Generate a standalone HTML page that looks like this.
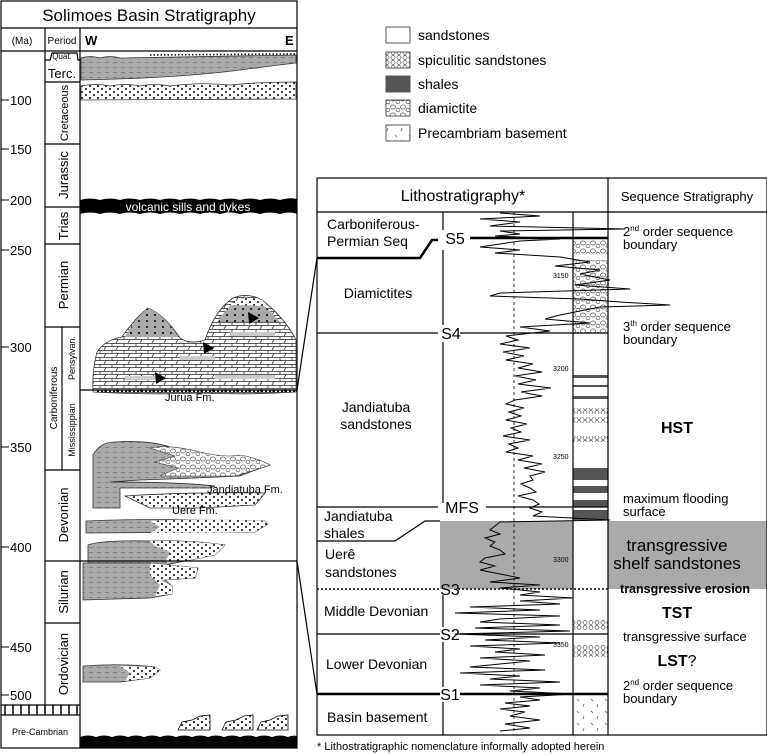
<!DOCTYPE html>
<html><head><meta charset="utf-8"><style>
html,body{margin:0;padding:0;background:#fff;}
svg{display:block;font-family:"Liberation Sans",sans-serif;}
</style></head><body>
<svg width="767" height="755" viewBox="0 0 767 755" xmlns="http://www.w3.org/2000/svg">
<defs>
<pattern id="dots" width="8" height="6" patternUnits="userSpaceOnUse"><rect width="8" height="6" fill="#fff"/><circle cx="2" cy="2" r="1" fill="#000"/><circle cx="6" cy="5" r="1" fill="#000"/></pattern>
<pattern id="gsh" width="8" height="5" patternUnits="userSpaceOnUse"><rect width="8" height="5" fill="#aaa"/><line x1="1" y1="2.5" x2="5" y2="2.5" stroke="#777" stroke-width="0.8"/></pattern>
<pattern id="gdot" width="8" height="6" patternUnits="userSpaceOnUse"><rect width="8" height="6" fill="#aaa"/><circle cx="3" cy="3" r="1" fill="#000"/></pattern>
<pattern id="diam" width="10" height="8" patternUnits="userSpaceOnUse"><rect width="10" height="8" fill="#fff"/><ellipse cx="3" cy="3" rx="2.5" ry="2" fill="none" stroke="#555" stroke-width="0.7"/><ellipse cx="8" cy="6" rx="2" ry="1.6" fill="none" stroke="#555" stroke-width="0.7"/></pattern>
<pattern id="spic" width="6" height="5" patternUnits="userSpaceOnUse"><rect width="6" height="5" fill="#fff"/><circle cx="3" cy="2.5" r="2" fill="none" stroke="#555" stroke-width="0.7"/></pattern>
<pattern id="brick" width="12" height="7" patternUnits="userSpaceOnUse"><rect width="12" height="7" fill="#fff"/><line x1="0" y1="0.5" x2="12" y2="0.5" stroke="#333" stroke-width="0.8"/><line x1="4" y1="0" x2="4" y2="3.5" stroke="#333" stroke-width="0.8"/><line x1="0" y1="3.5" x2="12" y2="3.5" stroke="#333" stroke-width="0.8"/><line x1="10" y1="3.5" x2="8" y2="7" stroke="#333" stroke-width="0.8"/></pattern>
<pattern id="base" width="14" height="12" patternUnits="userSpaceOnUse"><rect width="14" height="12" fill="#fff"/><line x1="3" y1="3" x2="5" y2="5" stroke="#555" stroke-width="0.7"/><line x1="10" y1="8" x2="9" y2="11" stroke="#555" stroke-width="0.7"/></pattern>
</defs>

<!-- LEFT PANEL -->
<g stroke="#000" fill="none" stroke-width="1.2">
<rect x="1" y="1" width="296" height="747"/>
<line x1="1" y1="28" x2="297" y2="28"/>
<line x1="1" y1="51" x2="297" y2="51"/>
<line x1="45" y1="28" x2="45" y2="705"/>
<line x1="80" y1="28" x2="80" y2="748"/>
<path d="M45 60 H50 L52 53 H77 L78 60 H80"/>
<line x1="45" y1="82" x2="80" y2="82"/>
<line x1="45" y1="144" x2="80" y2="144"/>
<line x1="45" y1="207" x2="80" y2="207"/>
<line x1="45" y1="244" x2="80" y2="244"/>
<line x1="45" y1="327" x2="80" y2="327"/>
<line x1="62" y1="327" x2="62" y2="470"/>
<line x1="45" y1="470" x2="80" y2="470"/>
<line x1="45" y1="623" x2="80" y2="623"/>
<line x1="1" y1="705" x2="80" y2="705"/>
<line x1="1" y1="715" x2="80" y2="715"/>
</g>
<g stroke="#000" stroke-width="1.5">
<line x1="5" y1="705" x2="5" y2="715"/><line x1="13" y1="705" x2="13" y2="715"/><line x1="21" y1="705" x2="21" y2="715"/><line x1="29" y1="705" x2="29" y2="715"/><line x1="37" y1="705" x2="37" y2="715"/><line x1="45" y1="705" x2="45" y2="715"/><line x1="53" y1="705" x2="53" y2="715"/><line x1="61" y1="705" x2="61" y2="715"/><line x1="69" y1="705" x2="69" y2="715"/><line x1="77" y1="705" x2="77" y2="715"/>
</g>
<text x="149" y="21" font-size="17" text-anchor="middle">Solimoes Basin Stratigraphy</text>
<text x="22" y="44" font-size="10" text-anchor="middle">(Ma)</text>
<text x="62" y="44" font-size="10" text-anchor="middle">Period</text>
<text x="85" y="45" font-size="13" font-weight="bold">W</text>
<text x="285" y="45" font-size="13" font-weight="bold">E</text>
<text x="62" y="59" font-size="8" text-anchor="middle">Quat.</text>
<text x="62" y="78" font-size="13" text-anchor="middle">Terc.</text>
<g font-size="13">
<text transform="translate(68,113) rotate(-90)" text-anchor="middle" font-size="11">Cretaceous</text>
<text transform="translate(68,175) rotate(-90)" text-anchor="middle">Jurassic</text>
<text transform="translate(68,226) rotate(-90)" text-anchor="middle">Trias</text>
<text transform="translate(68,285) rotate(-90)" text-anchor="middle">Permian</text>
<text transform="translate(57,398) rotate(-90)" text-anchor="middle" font-size="10">Carboniferous</text>
<text transform="translate(75,358) rotate(-90)" text-anchor="middle" font-size="9">Pensylvan.</text>
<text transform="translate(75,430) rotate(-90)" text-anchor="middle" font-size="9">Mississippian</text>
<text transform="translate(68,515) rotate(-90)" text-anchor="middle">Devonian</text>
<text transform="translate(68,592) rotate(-90)" text-anchor="middle">Silurian</text>
<text transform="translate(68,664) rotate(-90)" text-anchor="middle">Ordovician</text>
</g>
<text x="40" y="735" font-size="9" text-anchor="middle">Pre-Cambrian</text>
<g font-size="13" stroke="#000" stroke-width="1">
<line x1="1" y1="100" x2="9" y2="100"/><text x="10" y="105" stroke="none">100</text>
<line x1="1" y1="149" x2="9" y2="149"/><text x="10" y="154" stroke="none">150</text>
<line x1="1" y1="200" x2="9" y2="200"/><text x="10" y="205" stroke="none">200</text>
<line x1="1" y1="250" x2="9" y2="250"/><text x="10" y="255" stroke="none">250</text>
<line x1="1" y1="347" x2="9" y2="347"/><text x="10" y="352" stroke="none">300</text>
<line x1="1" y1="447" x2="9" y2="447"/><text x="10" y="452" stroke="none">350</text>
<line x1="1" y1="547" x2="9" y2="547"/><text x="10" y="552" stroke="none">400</text>
<line x1="1" y1="647" x2="9" y2="647"/><text x="10" y="652" stroke="none">450</text>
<line x1="1" y1="695" x2="9" y2="695"/><text x="10" y="700" stroke="none">500</text>
</g>

<!-- left section contents -->
<path d="M81 58 Q90 55 100 58 Q110 55 120 58 L296 55 L296 63 Q270 66 240 70 Q180 78 81 80 Z" fill="url(#gsh)" stroke="#333" stroke-width="0.8"/>
<line x1="150" y1="55" x2="296" y2="54" stroke="#000" stroke-width="1.5" stroke-dasharray="1.5 2"/>
<path d="M81 86 Q95 83 110 86 Q125 83 140 86 Q155 83 170 86 Q200 82 230 85 Q260 82 296 82 L296 99 L81 100 Z" fill="url(#dots)" stroke="#333" stroke-width="0.8"/>
<path d="M80 200 Q90 197 100 200 Q110 197 120 200 Q130 197 140 200 Q150 197 160 200 Q170 197 180 200 Q190 197 200 200 Q210 197 220 200 Q230 197 240 200 Q250 197 260 200 Q270 197 280 200 Q290 197 297 199 L297 214 Q290 211 280 214 Q270 211 260 214 Q250 211 240 214 Q230 211 220 214 Q210 211 200 214 Q190 211 180 214 Q170 211 160 214 Q150 211 140 214 Q130 211 120 214 Q110 211 100 214 Q90 211 80 214 Z" fill="#000"/>
<text x="188" y="211" font-size="12" fill="#fff" text-anchor="middle">volcanic sills and dykes</text>

<!-- Carboniferous mound -->
<path d="M93 392 Q92 370 97 352 Q105 340 122 337 Q135 318 148 308 Q165 315 180 338 Q190 345 205 340 Q215 310 233 298 Q248 292 262 300 Q285 318 296 340 L296 392 Q250 395 200 393 Q150 395 93 392 Z" fill="url(#brick)" stroke="#333" stroke-width="0.8"/>
<path d="M125 337 Q135 318 148 308 Q165 315 178 337 Z" fill="url(#gdot)"/>
<path d="M218 322 Q228 303 245 297 Q262 300 280 322 Z" fill="url(#gdot)"/>
<path d="M228 305 Q245 294 262 300 L268 306 Z" fill="url(#dots)"/>
<g fill="#ccc"><rect x="125" y="376" width="40" height="4"/><rect x="230" y="332" width="45" height="4"/><rect x="215" y="375" width="60" height="4"/><rect x="180" y="356" width="35" height="4"/></g>
<line x1="97" y1="391" x2="296" y2="391" stroke="#000" stroke-width="2" stroke-dasharray="2 2"/>
<g fill="#000"><path d="M155 372 L166 378 L156 384 Z"/><path d="M203 342 L214 348 L204 354 Z"/><path d="M248 312 L259 318 L249 324 Z"/></g>
<text x="165" y="401" font-size="11">Jurua Fm.</text>

<!-- Devonian shapes -->
<path d="M93 508 L93 455 Q100 442 115 442 Q150 440 170 447 Q200 450 220 460 Q240 455 262 462 L270 465 Q255 470 240 476 Q200 478 140 480 L110 482 Q180 482 215 486 L210 488 L120 488 L120 508 Z" fill="url(#gsh)" stroke="#333" stroke-width="0.8"/>
<path d="M150 448 Q170 444 200 452 Q225 458 240 455 Q258 458 270 465 Q250 472 235 476 L160 476 L178 468 L155 462 L175 456 Z" fill="url(#diam)" stroke="#333" stroke-width="0.6"/>
<path d="M125 496 Q180 492 265 493 L255 505 L200 508 L150 508 Z" fill="url(#dots)" stroke="#333" stroke-width="0.8"/>
<text x="207" y="493" font-size="11">Jandiatuba Fm.</text>
<text x="172" y="514" font-size="11">Uere Fm.</text>
<path d="M86 521 Q150 518 265 521 L268 524 L255 532 L86 533 Z" fill="url(#gsh)" stroke="#333" stroke-width="0.8"/>
<path d="M150 521 Q200 518 265 521 L268 524 L255 532 L150 533 L160 527 Z" fill="url(#dots)"/>
<path d="M88 565 L88 545 Q100 540 150 541 Q190 540 225 545 L215 555 L190 560 L165 565 Z" fill="url(#gsh)" stroke="#333" stroke-width="0.8"/>
<path d="M150 541 Q190 540 225 545 L215 555 L190 560 L165 563 L170 552 L155 546 Z" fill="url(#dots)"/>
<path d="M83 600 L83 563 L150 563 L198 568 L195 578 L165 580 L172 586 L172 594 L150 598 Z" fill="url(#gsh)" stroke="#333" stroke-width="0.8"/>
<path d="M150 563 L198 568 L195 578 L160 580 L172 586 L172 594 L155 596 L160 585 L150 575 Z" fill="url(#dots)"/>
<path d="M83 682 L83 666 Q120 663 155 667 L160 670 L150 678 L120 682 Z" fill="url(#gsh)" stroke="#333" stroke-width="0.8"/>
<path d="M120 666 L155 667 L160 670 L150 678 L125 681 L130 673 Z" fill="url(#dots)"/>
<g fill="url(#dots)" stroke="#000" stroke-width="0.8">
<path d="M178 730 L182 722 L192 720 L200 716 L210 715 L210 730 Z"/>
<path d="M222 730 L226 722 L236 720 L244 716 L253 715 L253 730 Z"/>
<path d="M257 730 L261 722 L270 720 L278 716 L288 715 L288 730 Z"/>
</g>
<path d="M80 737 Q88 734 96 737 Q104 734 112 737 Q120 734 128 737 Q136 734 144 737 Q152 734 160 737 Q168 734 176 737 Q184 734 192 737 Q200 734 208 737 Q216 734 224 737 Q232 734 240 737 Q248 734 256 737 Q264 734 272 737 Q280 734 288 737 Q292 735 297 736 L297 748 L80 748 Z" fill="#000"/>

<!-- connectors -->
<g stroke="#000" stroke-width="1.2" fill="none">
<line x1="80" y1="390" x2="297" y2="390"/>
<line x1="297" y1="390" x2="317" y2="258"/>
<line x1="45" y1="561" x2="297" y2="561"/>
<line x1="297" y1="561" x2="317" y2="694"/>
</g>

<!-- LEGEND -->
<g stroke="#555" stroke-width="1">
<rect x="386" y="27" width="24" height="16" fill="#fff"/>
<rect x="386" y="52" width="24" height="16" fill="url(#spic)"/>
<rect x="386" y="76" width="24" height="16" fill="#555"/>
<rect x="386" y="100" width="24" height="16" fill="url(#diam)"/>
<rect x="386" y="125" width="24" height="16" fill="url(#base)"/>
</g>
<g font-size="14">
<text x="418" y="40">sandstones</text>
<text x="418" y="65">spiculitic sandstones</text>
<text x="418" y="89">shales</text>
<text x="418" y="113">diamictite</text>
<text x="418" y="138">Precambriam basement</text>
</g>

<!-- RIGHT PANEL -->
<rect x="440" y="521" width="133" height="68" fill="#aaa"/>
<rect x="608" y="521" width="159" height="68" fill="#aaa"/>
<rect x="573" y="240" width="35" height="14" fill="url(#diam)"/>
<rect x="573" y="260" width="35" height="73" fill="url(#diam)"/>
<g fill="#555"><rect x="573" y="375" width="35" height="3"/><rect x="573" y="385" width="35" height="2"/><rect x="573" y="396" width="35" height="3"/><rect x="573" y="468" width="35" height="12"/><rect x="573" y="486" width="35" height="7"/><rect x="573" y="500" width="35" height="7"/><rect x="573" y="510" width="35" height="10"/></g>
<g fill="url(#spic)"><rect x="573" y="408" width="35" height="6"/><rect x="573" y="417" width="35" height="6"/><rect x="573" y="436" width="35" height="6"/><rect x="573" y="620" width="35" height="10"/><rect x="573" y="645" width="35" height="12"/></g>
<rect x="573" y="697" width="35" height="38" fill="url(#base)"/>

<g stroke="#000" stroke-width="1.2" fill="none">
<rect x="317" y="178" width="450" height="557"/>
<line x1="317" y1="212" x2="767" y2="212"/>
<line x1="608" y1="178" x2="608" y2="735"/>
<line x1="573" y1="212" x2="573" y2="735"/>
<path d="M443 212 V230 M443 250 V325 M443 342 V503 M443 595 V627 M443 642 V687 M443 702 V735"/>
<line x1="514" y1="212" x2="514" y2="735" stroke-dasharray="3 3" stroke-width="0.8"/>
<line x1="317" y1="333" x2="438" y2="333"/>
<line x1="460" y1="333" x2="608" y2="333"/>
<line x1="317" y1="507" x2="438" y2="507"/>
<line x1="486" y1="507" x2="608" y2="507"/>
<path d="M317 541 H395 L425 521 H440"/>
<line x1="317" y1="589" x2="440" y2="589" stroke-dasharray="2 2" stroke-width="1.5"/>
<line x1="458" y1="589" x2="608" y2="589" stroke-dasharray="2 2" stroke-width="1.5"/>
<line x1="317" y1="634" x2="440" y2="634"/>
<line x1="460" y1="634" x2="608" y2="634"/>
</g>
<g stroke="#000" stroke-width="2.5" fill="none">
<path d="M317 258 H420 L432 240 H438"/>
<line x1="470" y1="238" x2="608" y2="238"/>
<line x1="317" y1="694" x2="440" y2="694"/>
<line x1="460" y1="694" x2="608" y2="694"/>
</g>
<polyline fill="none" stroke="#000" stroke-width="1" points="500,213 540,216 480,219 520,222 490,226 625,229 500,231 520,234 495,236 560,239 520,241 500,244 480,247 520,250 495,253 560,257 590,262 555,266 600,270 580,274 610,280 575,285 630,289 500,293 490,296 580,299 620,302 670,305 600,307 580,311 560,315 545,319 590,323 520,327 550,331 506,336 518,340 500,344 530,348 503,352 524,356 506,360 533,364 518,368 542,372 515,376 536,380 518,384 551,388 521,392 542,396 515,400 506,404 524,408 509,412 521,416 506,420 527,424 511,428 521,432 503,436 530,440 509,444 518,448 506,452 533,456 518,460 542,464 524,468 545,472 530,476 533,480 521,484 530,488 536,492 518,496 533,500 539,504 530,508 542,512 533,516 610,520 500,522 495,526 490,530 500,534 485,538 495,542 490,546 500,550 505,554 485,558 480,562 495,566 480,570 500,574 520,578 490,582 540,585 500,588 540,592 520,595 573,598 520,601 560,604 470,607 540,610 455,613 560,616 500,619 480,622 560,625 475,628 570,631 455,634 540,637 485,640 560,643 470,646 520,649 495,652 545,655 480,658 530,661 500,664 470,667 545,670 460,673 520,676 490,679 560,682 480,685 540,688 510,691 573,694 520,697 540,700 505,703 530,706 500,709 525,712 510,716 540,720 505,724 530,728 500,731"/>
<g font-size="7"><text x="553" y="278">3150</text><text x="553" y="371">3200</text><text x="553" y="459">3250</text><text x="553" y="562">3300</text><text x="553" y="647">3350</text></g>

<text x="463" y="201" font-size="16" text-anchor="middle">Lithostratigraphy*</text>
<text x="687" y="201" font-size="13" text-anchor="middle">Sequence Stratigraphy</text>
<g font-size="14">
<text x="327" y="229">Carboniferous-</text>
<text x="327" y="246">Permian Seq</text>
<text x="378" y="298" text-anchor="middle">Diamictites</text>
<text x="376" y="412" text-anchor="middle">Jandiatuba</text>
<text x="376" y="429" text-anchor="middle">sandstones</text>
<text x="324" y="521">Jandiatuba</text>
<text x="324" y="538">shales</text>
<text x="325" y="559">Uerê</text>
<text x="325" y="577">sandstones</text>
<text x="324" y="616">Middle Devonian</text>
<text x="326" y="669">Lower Devonian</text>
<text x="327" y="722">Basin basement</text>
</g>
<g font-size="16" text-anchor="middle">
<text x="455" y="244">S5</text>
<text x="451" y="339">S4</text>
<text x="462" y="513">MFS</text>
<text x="450" y="595">S3</text>
<text x="450" y="640">S2</text>
<text x="450" y="700">S1</text>
</g>
<g font-size="13">
<text x="623" y="236">2<tspan font-size="8" dy="-5">nd</tspan><tspan dy="5"> order sequence</tspan></text>
<text x="623" y="249">boundary</text>
<text x="623" y="331">3<tspan font-size="8" dy="-5">th</tspan><tspan dy="5"> order sequence</tspan></text>
<text x="623" y="344">boundary</text>
<text x="623" y="503">maximum flooding</text>
<text x="623" y="516">surface</text>
<text x="623" y="641">transgressive surface</text>
<text x="623" y="690">2<tspan font-size="8" dy="-5">nd</tspan><tspan dy="5"> order sequence</tspan></text>
<text x="623" y="703">boundary</text>
</g>
<text x="677" y="433" font-size="16" font-weight="bold" text-anchor="middle">HST</text>
<text x="677" y="551" font-size="17" text-anchor="middle">transgressive</text>
<text x="677" y="569" font-size="17" text-anchor="middle">shelf sandstones</text>
<text x="685" y="593" font-size="12.5" font-weight="bold" text-anchor="middle">transgressive erosion</text>
<text x="677" y="618" font-size="16" font-weight="bold" text-anchor="middle">TST</text>
<text x="677" y="666" font-size="16" font-weight="bold" text-anchor="middle">LST<tspan font-weight="normal">?</tspan></text>
<text x="317" y="750" font-size="11">* Lithostratigraphic nomenclature informally adopted herein</text>
</svg>
</body></html>
